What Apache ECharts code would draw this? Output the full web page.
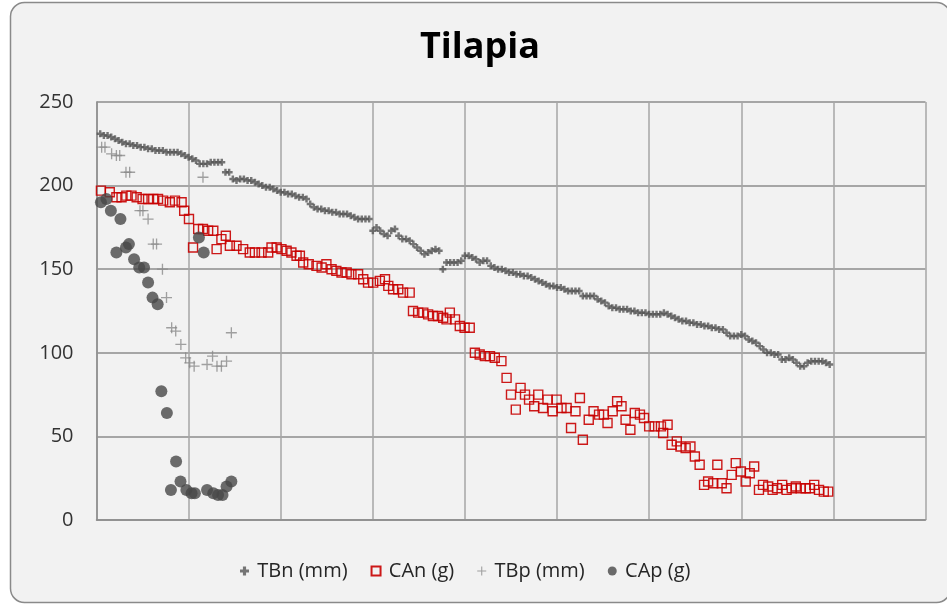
<!DOCTYPE html>
<html>
<head>
<meta charset="utf-8">
<script src="https://cdn.jsdelivr.net/npm/echarts@6/dist/echarts.min.js"></script>
<style>
  html, body { margin: 0; padding: 0; background: #ffffff; }
  #chart { width: 947px; height: 605px; }
</style>
</head>
<body>
<div id="chart"></div>
<script>
// ---- Data ----
var titleText = 'Tilapia';
var seriesNames = ['TBn (mm)', 'CAn (g)', 'TBp (mm)', 'CAp (g)'];
var yTicks = [0, 50, 100, 150, 200, 250];

// TBn: one value per sample index 1..199
var tbnY = [
  231,230,230,229,228,227,226,
  225,225,224,224,223,
  223,222,222,221,
  221,221,220,220,
  220,220,219,218,
  217,216,215,213,
  213,213,214,214,214,214,
  208,208,204,203,
  204,204,203,203,
  202,201,200,
  199,199,198,197,
  196,196,195,195,194,
  193,193,192,
  189,187,186,186,185,
  185,184,184,183,
  183,183,182,181,180,
  180,180,180,
  173,175,
  173,171,170,
  173,174,
  170,168,168,
  167,165,163,
  161,159,
  160,161,162,161,
  150,154,
  154,154,154,
  155,158,158,157,
  156,154,155,155,
  152,151,
  150,150,149,
  148,148,147,
  147,146,146,
  145,144,143,
  142,141,140,
  140,139,139,
  138,137,137,137,137,
  134,134,134,134,
  132,131,130,
  128,127,
  127,126,126,
  126,125,125,124,124,
  124,123,123,
  123,123,124,123,
  122,121,120,
  119,119,118,118,117,
  117,116,116,
  115,115,114,114,
  112,110,110,
  110,111,110,
  108,107,106,
  104,102,100,
  100,99,99,
  96,96,
  97,96,94,
  92,92,
  94,95,95,
  95,95,
  94,93
];

// CAn: sample position and value
var canX = [1.2,3.6,5.4,6.8,8.1,9.5,10.9,12.5,14,15.4,
  16.7,18.1,19.9,21.3,23.1,23.8,25.1,26.2,27.6,28.9,
  30.3,31.7,32.6,33.9,35.1,36.2,38,39.8,41.6,43,
  44.8,46.6,47.5,48.9,50.2,51.6,52.9,54.3,55.2,56.1,
  57.6,59.7,61.1,62.4,63.8,65.1,66.5,67.9,69.2,71,
  72.4,73.7,75.1,76.9,78.3,79.2,80.5,81.9,83.2,85,
  85.9,87.3,88.7,90,91.3,92.7,94.1,95,95.9,97.3,
  98.6,99.9,101.3,102.7,104,105.4,106.8,108.1,109.9,111.3,
  112.5,113.8,115.1,116.3,117.4,118.8,119.9,121.2,122.4,123.8,
  124.9,126.2,127.6,128.8,130,131.2,132,133.6,134.9,136.4,
  137.7,138.7,140.1,141.3,142.5,143.6,144.9,146.1,147.5,148.6,
  150,151.5,153.2,153.8,155,156.1,157.5,158.5,159.9,161.2,
  162.4,163.7,164.9,166,167.4,168.5,169.7,171,172.4,173.5,
  174.9,176.2,177.3,178.5,179.8,180.9,182.3,183.5,184.7,186.1,
  187.3,188.7,189.8,191.1,192.5,193.6,194.8,196.1,197.4,198.6];
var canY = [197,196,193,193,194,194,193,192,192,192,
  192,191,190,191,190,185,180,163,174,174,
  173,173,162,168,170,164,164,162,160,160,
  160,160,163,163,162,161,160,158,158,154,
  153,152,151,153,150,149,148,148,147,147,
  144,142,142,143,144,140,138,138,136,136,
  125,124,124,123,122,122,121,120,124,120,
  116,115,115,100,99,98,98,97,95,85,
  75,66,79,75,72,68,75,67,72,65,
  72,67,67,55,65,73,48,60,65,63,
  63,58,65,71,68,60,54,64,63,61,
  56,56,56,52,57,45,47,44,43,44,
  38,33,21,23,22,33,22,19,27,34,
  29,23,28,32,18,21,20,18,19,21,
  18,19,20,19,19,19,21,18,17,17];

// TBp
var tbpX = [1.4,2.3,4.1,5.4,6.3,8,9,11.8,12.6,14,15.4,16.3,17.9,19,20.4,21.5,22.9,24.2,25.3,26.5,28.9,30,31.5,32.7,33.9,35.3,36.6];
var tbpY = [223,223,219,218,218,208,208,185,185,180,165,165,150,133,115,113,105,97,94,92,205,93,98,92,92,95,112];

// CAp
var capX = [1.2,2.7,3.9,5.4,6.5,8,8.8,10.2,11.6,12.9,14,15.2,16.6,17.6,19.1,20.2,21.6,22.8,24.4,25.8,26.7,27.8,29.1,30,31.7,33,34.2,35.3,36.6];
var capY = [190,192,185,160,180,163,165,156,151,151,142,133,129,77,64,18,35,23,18,16,16,169,160,18,16,15,15,20,23];

// ---- helpers ----
function pairs(xs, ys) {
  var n = Math.min(xs.length, ys.length), out = [];
  for (var i = 0; i < n; i++) out.push([xs[i], ys[i]]);
  return out;
}
var tbnData = tbnY.map(function (v, i) { return [i + 1, v]; });

var plusThick = 'path://M2.6,0H5.4V2.6H8V5.4H5.4V8H2.6V5.4H0V2.6H2.6Z';
var plusThin = 'path://M4.4,0H5.6V4.4H10V5.6H5.6V10H4.4V5.6H0V4.4H4.4Z';

var chart = echarts.init(document.getElementById('chart'));
chart.setOption({
  animation: false,
  backgroundColor: 'transparent',
  graphic: [{
    type: 'rect',
    z: -100,
    shape: { x: 10.5, y: 2.5, width: 940, height: 600, r: 14 },
    style: { fill: '#f2f2f2', stroke: '#8a8a8a', lineWidth: 1.5 }
  }],
  title: {
    text: titleText,
    left: 415,
    top: 25,
    textStyle: { fontFamily: 'Open Sans', fontWeight: 'bold', fontSize: 36, color: '#000' }
  },
  legend: {
    left: 235,
    top: 556,
    itemWidth: 9,
    itemHeight: 9,
    itemGap: 23,
    formatter: function (name) { return '\u2009' + name; },
    textStyle: { fontFamily: 'Open Sans', fontSize: 20, color: '#262626' },
    data: [
      { name: seriesNames[0], icon: plusThick },
      { name: seriesNames[1], icon: 'rect' },
      { name: seriesNames[2], icon: plusThin },
      { name: seriesNames[3], icon: 'circle' }
    ]
  },
  grid: { left: 96.5, right: 21.5, top: 102, bottom: 85, containLabel: false },
  xAxis: {
    type: 'value',
    min: 0, max: 225, interval: 25,
    axisLine: { show: true, lineStyle: { color: '#8c8c8c', width: 1.5 } },
    axisTick: { show: false },
    axisLabel: { show: false },
    splitLine: { show: true, lineStyle: { color: '#a6a6a6', width: 1.5 } }
  },
  yAxis: {
    type: 'value',
    min: yTicks[0], max: yTicks[yTicks.length - 1], interval: 50,
    axisLine: { show: true, lineStyle: { color: '#8c8c8c', width: 1.5 } },
    axisTick: { show: false },
    axisLabel: { fontFamily: 'Open Sans', fontSize: 20, color: '#333', margin: 23 },
    splitLine: { show: true, lineStyle: { color: '#8c8c8c', width: 1.5 } }
  },
  series: [
    {
      name: seriesNames[0], type: 'scatter', data: tbnData,
      symbol: plusThick, symbolSize: 7,
      itemStyle: { color: '#555555' }
    },
    {
      name: seriesNames[1], type: 'scatter', data: pairs(canX, canY),
      symbol: 'rect', symbolSize: 9,
      itemStyle: { color: 'rgba(0,0,0,0)', borderColor: '#c80000', borderWidth: 1.4, opacity: 0.9 }
    },
    {
      name: seriesNames[2], type: 'scatter', data: pairs(tbpX, tbpY),
      symbol: plusThin, symbolSize: 11,
      itemStyle: { color: '#8a8a8a' }
    },
    {
      name: seriesNames[3], type: 'scatter', data: pairs(capX, capY),
      symbol: 'circle', symbolSize: 12,
      itemStyle: { color: '#474747' }
    }
  ]
});
</script>
</body>
</html>
